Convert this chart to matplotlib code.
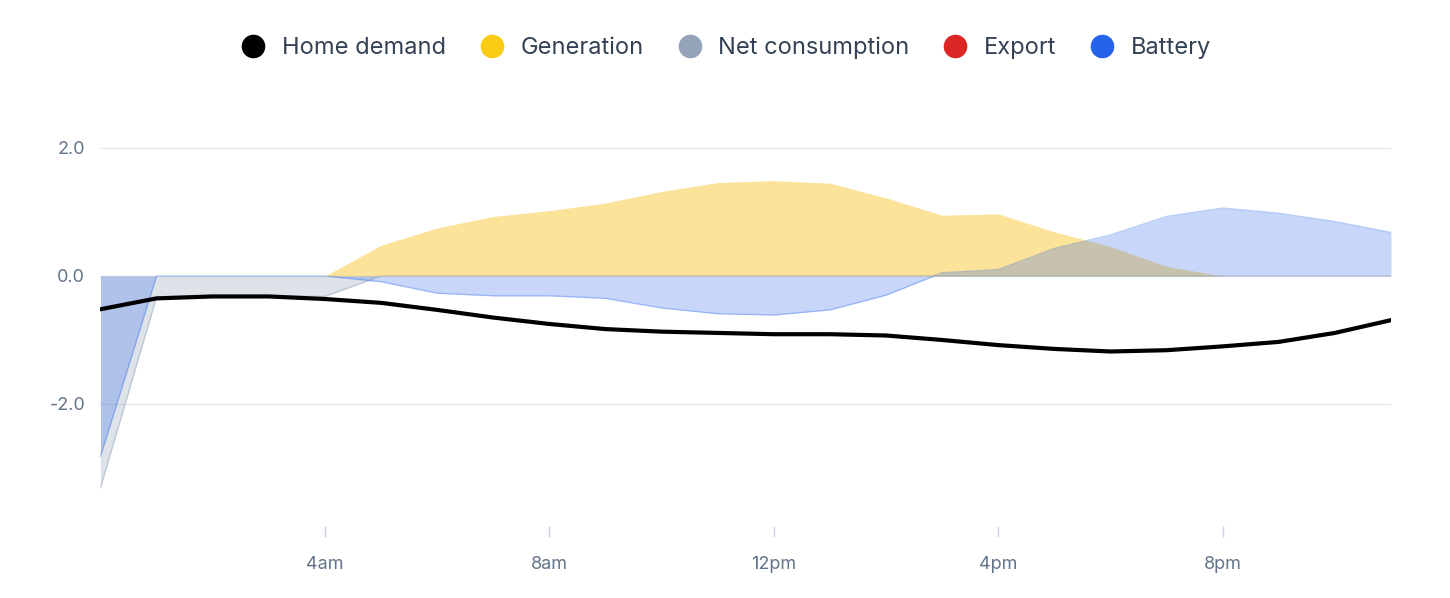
import matplotlib
matplotlib.use("Agg")
import matplotlib.pyplot as plt
from matplotlib.lines import Line2D

plt.rcParams['font.family'] = ['Inter', 'DejaVu Sans']

# hourly values (kW), hour 0 .. 23
hours = list(range(24))
home_demand = [-0.52, -0.35, -0.32, -0.32, -0.36, -0.42, -0.53, -0.65, -0.75, -0.83, -0.87, -0.89,
               -0.91, -0.91, -0.93, -1.00, -1.08, -1.14, -1.18, -1.16, -1.10, -1.03, -0.89, -0.69]
generation = [0, 0, 0, 0, 0, 0.48, 0.75, 0.93, 1.02, 1.14, 1.32, 1.46,
              1.49, 1.45, 1.22, 0.95, 0.97, 0.69, 0.46, 0.15, 0, 0, 0, 0]
net_consumption = [-3.31, -0.33, -0.31, -0.31, -0.32, 0, 0, 0, 0, 0, 0, 0,
                   0, 0, 0, 0, 0, 0, 0, 0, 0, 0, 0, 0]
export = [0] * 24
battery = [-2.82, 0, 0, 0, 0, -0.09, -0.27, -0.31, -0.31, -0.35, -0.50, -0.59,
           -0.61, -0.53, -0.30, 0.05, 0.10, 0.43, 0.64, 0.93, 1.06, 0.98, 0.85, 0.68]

tick_hours = [4, 8, 12, 16, 20]
tick_labels = ['4am', '8am', '12pm', '4pm', '8pm']

c_demand = '#000000'
c_gen = '#facc15'
c_net = '#94a3b8'
c_exp = '#dc2626'
c_bat = '#2563eb'

fig = plt.figure(figsize=(14.5, 5.98), dpi=100)
ax = fig.add_axes([0.0693, 0.1211, 0.890, 0.7385])

ax.fill_between(hours, 0, net_consumption, color=c_net, alpha=0.3, lw=0)
ax.plot(hours, net_consumption, color=c_net, alpha=0.45, lw=1)
ax.fill_between(hours, 0, generation, color='#fac11f', alpha=0.45, lw=0)  # a bit warmer than the marker
ax.fill_between(hours, 0, export, color=c_exp, alpha=0.25, lw=0)
ax.fill_between(hours, 0, battery, color=c_bat, alpha=0.25, lw=0)
ax.plot(hours, battery, color=c_bat, alpha=0.3, lw=1)
ax.plot(hours, home_demand, color=c_demand, lw=3, solid_capstyle='round', zorder=5)

ax.set_xlim(0, 23)
ax.set_ylim(-3.9, 3.0)
ax.set_yticks([-2, 0, 2])
ax.set_yticklabels(['-2.0', '0.0', '2.0'])
ax.set_xticks(tick_hours)
ax.set_xticklabels(tick_labels)
ax.grid(axis='y', color='#e5e7eb', lw=1)
ax.set_axisbelow(True)
for s in ax.spines.values():
    s.set_visible(False)
ax.tick_params(axis='y', length=0, pad=11, labelsize=13, labelcolor='#64748b')
ax.tick_params(axis='x', length=8, width=1, color='#cbd5e1', pad=14,
               labelsize=13, labelcolor='#64748b')

names = ['Home demand', 'Generation', 'Net consumption', 'Export', 'Battery']
cols = [c_demand, c_gen, c_net, c_exp, c_bat]
handles = [Line2D([], [], ls='none', marker='o', markersize=17, color=c, markeredgewidth=0)
           for c in cols]
fig.legend(handles, names, loc='center', bbox_to_anchor=(0.5, 1 - 48 / 598), ncol=5,
           frameon=False, fontsize=17, labelcolor='#334155', handletextpad=0.6,
           columnspacing=1.36, handlelength=1.2)

fig.savefig('out.png', dpi=100, facecolor='white')
